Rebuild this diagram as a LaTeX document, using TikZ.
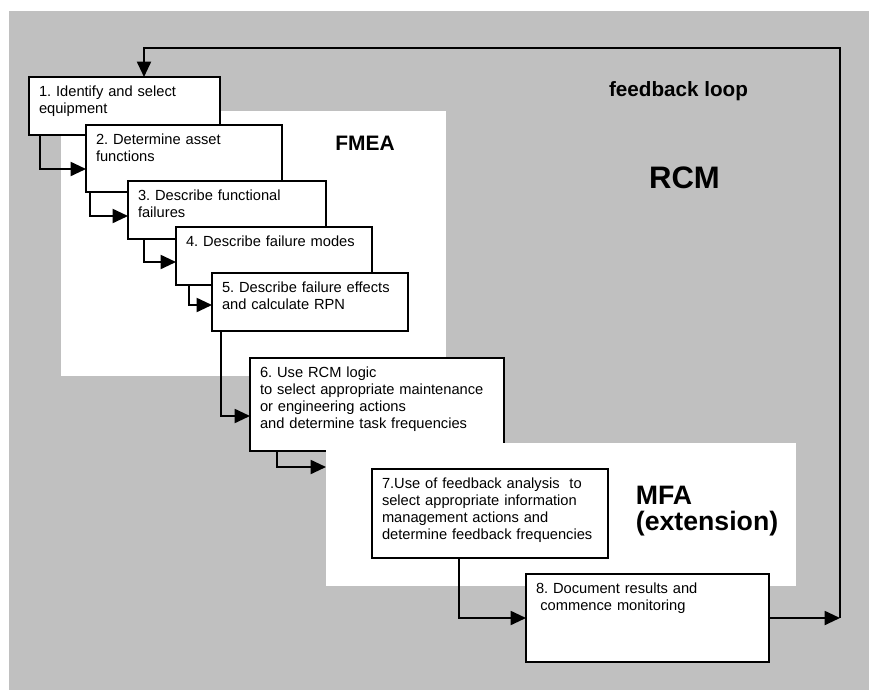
\documentclass[tikz,border=0pt]{standalone}
\usepackage{fontspec}
\setmainfont{Liberation Sans}
\usetikzlibrary{arrows.meta}
\definecolor{rcmgray}{RGB}{192,192,192}
\frenchspacing

\begin{document}
\begin{tikzpicture}[x=0.75pt, y=-0.75pt, >={Triangle[length=11.5pt, width=10.5pt]},
    line width=1.4pt,
    task/.style={draw, fill=white, anchor=north west, align=left, outer sep=0pt,
      inner xsep=7.5pt, inner ysep=0pt, text height=14.6pt,
      font=\fontsize{11}{12.7}\selectfont},
    area/.style={fill=white, anchor=north west, inner sep=0pt, outer sep=0pt},
    title/.style={inner sep=0pt, anchor=base}]

  \useasboundingbox (0,0) rectangle (869,690);
  \fill [rcmgray] (9,11) rectangle (869,690);

  \node [area, minimum width=288.75pt, minimum height=198.75pt] (fmea-area) at (61,111) {};
  \node [title, font=\fontsize{15.7}{18}\selectfont\bfseries] (fmea) at (365,150) {FMEA};
  \node [title, font=\fontsize{15.5}{18}\selectfont\bfseries] (feedback) at (678.5,96.7) {feedback loop};
  \node [title, font=\fontsize{23.3}{26}\selectfont\bfseries] (rcm) at (684.5,188) {RCM};

  \node [task, text width=128.25pt, text depth=28.9pt] (b1) at (29,77)
    {1. Identify and select\\equipment};
  \node [task, text width=132pt, text depth=35.65pt] (b2) at (86,125)
    {2. Determine asset\\functions};
  \node [task, text width=133.5pt, text depth=28.9pt] (b3) at (128,181)
    {3. Describe functional\\failures};
  \node [task, text width=132pt, text depth=28.9pt] (b4) at (176,227)
    {4. Describe failure modes};
  \node [task, text width=132pt, text depth=28.9pt] (b5) at (212,273)
    {5. Describe failure effects\\and calculate RPN};
  \node [task, text width=175.5pt, text depth=55.15pt] (b6) at (250,358)
    {6. Use RCM logic\\to select appropriate maintenance\\or engineering actions\\and determine task frequencies};

  \node [area, minimum width=352.5pt, minimum height=107.25pt] (mfa-area) at (326,443) {};
  \node [anchor=base west, align=left, text width=150pt, inner sep=0pt,
    font=\fontsize{20}{19.5}\selectfont\bfseries] (mfa) at (635,504) {MFA\\(extension)};

  \node [task, text width=162pt, text depth=52.15pt] (b7) at (372,469)
    {7.Use of feedback analysis\ \ to\\select appropriate information\\management actions and\\determine feedback frequencies};
  \node [task, text width=167.25pt, text depth=51.4pt] (b8) at (526,574)
    {8. Document results and\\\hspace*{0.3em}commence monitoring};

  \foreach \a/\b/\dx/\y in {b1/b2/11/169, b2/b3/4/216, b3/b4/16/262, b4/b5/13/305,
      b5/b6/9/416, b6/mfa-area/27/467, b7/b8/87/618}
    \draw [->] (\a.south west) ++(\dx,0) |- (\b.west |- 0,\y);

  \coordinate (fb-se) at (840,618);
  \coordinate (fb-nw) at (144,48);
  \draw [->] (b8) -- (fb-se);
  \draw [->] (fb-se) |- (fb-nw) -- (b1.north -| fb-nw);

\end{tikzpicture}
\end{document}
